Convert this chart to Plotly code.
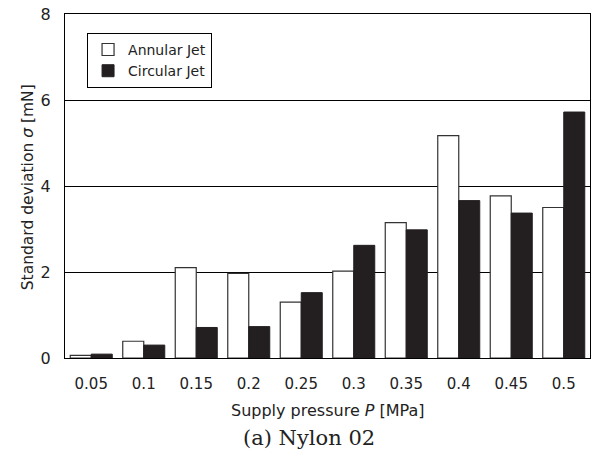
import plotly.graph_objects as go

categories = ["0.05", "0.1", "0.15", "0.2", "0.25", "0.3", "0.35", "0.4", "0.45", "0.5"]
annular = [0.06, 0.39, 2.10, 1.97, 1.30, 2.02, 3.15, 5.17, 3.77, 3.50]
circular = [0.09, 0.30, 0.71, 0.73, 1.52, 2.62, 2.98, 3.66, 3.37, 5.72]
y_ticks = [0, 2, 4, 6, 8]

font_family = "DejaVu Sans, sans-serif"

fig = go.Figure()
fig.add_trace(go.Bar(x=categories, y=annular, name="Annular Jet",
                     marker=dict(color="white", line=dict(color="#333333", width=1.2))))
fig.add_trace(go.Bar(x=categories, y=circular, name="Circular Jet",
                     marker=dict(color="#231f20", line=dict(color="#231f20", width=1))))

fig.update_layout(
    width=594, height=458,
    margin=dict(l=65, r=4, t=14, b=100),
    paper_bgcolor="white", plot_bgcolor="white",
    barmode="group", bargap=0.2, bargroupgap=0,
    font=dict(family=font_family, size=15, color="#222222"),
    showlegend=True,
    legend=dict(x=0.042, y=0.945, xanchor="left", yanchor="top",
                bordercolor="black", borderwidth=1, bgcolor="white",
                font=dict(size=14), itemwidth=30, tracegroupgap=0),
    xaxis=dict(showline=True, linecolor="black", linewidth=1, mirror=True,
               ticks="", showgrid=False, automargin=False, ticklabelstandoff=12,
               tickfont=dict(size=15)),
    yaxis=dict(range=[0, 8], tickvals=y_ticks, showline=True, linecolor="black",
               linewidth=1, mirror=True, ticks="", showgrid=True, gridcolor="black",
               gridwidth=1, zeroline=False, automargin=False, ticklabelstandoff=10,
               ticklabeloverflow="allow", tickfont=dict(size=16)),
)

fig.add_annotation(text="Supply pressure <i>P</i> [MPa]", xref="paper", yref="paper",
                   x=0.50, y=-0.154, xanchor="center", yanchor="middle", showarrow=False,
                   font=dict(family=font_family, size=16, color="#222222"))
fig.add_annotation(text="Standard deviation <i>σ</i> [mN]", xref="paper", yref="paper",
                   x=-0.07, y=0.497, xanchor="center", yanchor="middle", showarrow=False,
                   textangle=-90,
                   font=dict(family=font_family, size=15.5, color="#222222"))
fig.add_annotation(text="(a) Nylon 02", xref="paper", yref="paper", x=0.465, y=-0.233,
                   xanchor="center", yanchor="middle", showarrow=False,
                   font=dict(family="DejaVu Serif, serif", size=21, color="#222222"))

fig.write_html("out.html", config={"displayModeBar": False},
               post_script="document.body.style.margin='0px';")
